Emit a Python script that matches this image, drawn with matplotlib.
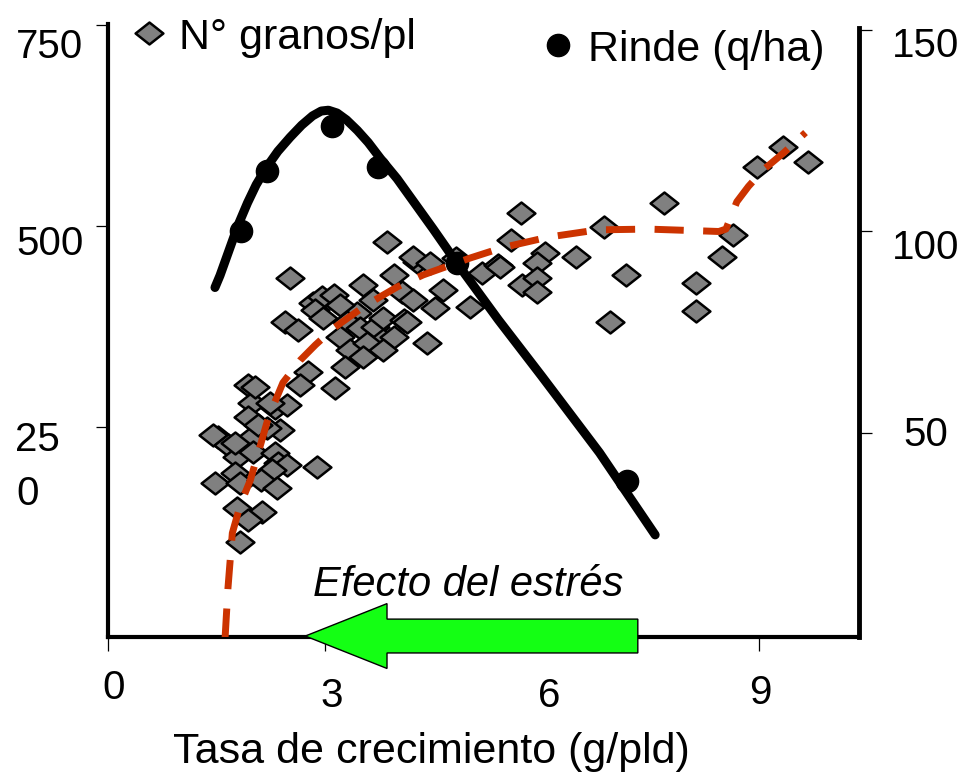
import matplotlib
matplotlib.use("Agg")
import matplotlib.pyplot as plt
import matplotlib.patches as mpatches
from matplotlib.lines import Line2D
from matplotlib.path import Path

plt.rcParams['font.family'] = ['Liberation Sans', 'DejaVu Sans']

# N granos por planta (eje izquierdo)
granos_x = [1.94, 1.99, 1.94, 2.31, 2.48, 2.38, 2.20, 1.52, 1.45, 1.66, 1.99, 1.79, 2.01, 2.31,
            1.76, 2.35, 2.48, 2.27, 2.89, 1.48, 1.76, 1.83, 2.11, 2.34, 1.79, 2.13, 1.94, 1.83,
            2.04, 2.24, 2.08, 2.52, 2.83, 2.96, 2.87, 2.45, 2.63, 3.53, 3.67, 3.45, 3.31, 3.21,
            3.35, 3.49, 3.70, 3.81, 3.80, 3.59, 3.53, 3.28, 3.14, 2.77, 2.66, 3.95, 4.09, 4.07,
            4.22, 4.28, 3.95, 3.81, 3.12, 3.86, 3.21, 2.98, 4.22, 4.46, 4.64, 5.18, 5.39, 4.14,
            4.53, 4.42, 5.01, 5.57, 6.05, 6.47, 5.94, 5.73, 5.94, 5.94, 5.43, 5.71, 4.81, 6.86,
            7.17, 6.94, 7.69, 8.13, 8.13, 8.50, 8.64, 8.98, 9.34, 9.68]
granos_y = [302, 280, 262, 274, 277, 246, 249, 238, 240, 228, 238, 213, 219, 218,
            230, 205, 203, 197, 200, 180, 193, 180, 184, 174, 149, 144, 134, 107,
            300, 280, 252, 435, 404, 412, 396, 381, 371, 427, 408, 392, 381, 362,
            346, 373, 374, 386, 358, 354, 337, 325, 299, 318, 302, 439, 383, 418,
            408, 455, 362, 346, 414, 480, 402, 386, 461, 454, 420, 442, 451, 381,
            398, 354, 399, 483, 466, 461, 454, 427, 435, 418, 449, 516, 460, 498,
            439, 381, 529, 429, 394, 461, 489, 573, 598, 580]

# ajuste de granos (linea punteada)
granos_fit_x = [1.62, 1.66, 1.72, 1.83, 1.97, 2.05, 2.22, 2.42, 2.66, 2.87, 3.14, 3.53, 3.77, 4.0,
                4.36, 4.64, 5.01, 5.46, 6.09, 6.77, 7.47, 8.13, 8.45, 8.55, 8.62, 8.70, 8.86,
                9.07, 9.35, 9.65]
granos_fit_y = [-12, 50, 118, 153, 184, 209, 262, 305, 333, 352, 374, 399, 412, 424,
                439, 448, 460, 473, 486, 495, 496, 494, 493, 496, 512, 530, 549,
                570, 591, 616]

# Rinde (q/ha), eje derecho
rinde_x = [1.84, 2.20, 3.10, 3.73, 4.83, 7.18]
rinde_y = [100, 115, 126, 116, 92, 38]

rinde_fit_x = [1.48, 1.55, 1.62, 1.70, 1.80, 1.93, 2.05, 2.2, 2.35, 2.52, 2.68, 2.83, 2.95,
               3.05, 3.17, 3.3, 3.45, 3.6, 3.77, 4.0, 4.22, 4.5, 4.83, 5.4, 6.0, 6.8, 7.57]
rinde_fit_y = [86, 89, 92.5, 96.5, 101.5, 107, 111.5, 116, 119.8, 123.3, 126.3, 128.6, 129.8,
               130.0, 129.3, 127.6, 125, 122, 118, 113, 107.5, 100.5, 92, 78, 64, 45, 24.6]

xticks = [0, 3, 6, 9]
left_ticks = [250, 500, 750]
right_ticks = [50, 100, 150]

W, H = 969, 777
def px(x, y):
    return x / W, 1 - y / H

diamond = Path([(-1, 0), (0, 0.79), (1, 0), (0, -0.79), (-1, 0)],
               [Path.MOVETO, Path.LINETO, Path.LINETO, Path.LINETO, Path.CLOSEPOLY])

fig = plt.figure(figsize=(9.69, 7.77), dpi=100)
ax = fig.add_axes([108 / W, 1 - 637 / H, 751 / W, 613 / H])
ax2 = ax.twinx()

ax.set_xlim(0, 10.39)
ax.set_ylim(-11.2, 751)
ax2.set_ylim(-0.74, 151.4)

ax.scatter(granos_x, granos_y, marker=diamond, s=400, facecolor='#808080',
           edgecolor='black', linewidth=1.8, zorder=3)

ax2.plot(rinde_fit_x, rinde_fit_y, color='black', lw=6.5, solid_capstyle='round',
         solid_joinstyle='round', zorder=3)
ax2.plot(rinde_x, rinde_y, 'o', color='black', ms=16, zorder=4)
ax2.plot(granos_fit_x, granos_fit_y, color='#CC3300', lw=5, dashes=(4.2, 2.8),
         transform=ax.transData, zorder=5)

# flecha
arrow = mpatches.FancyArrow(7.33, -0.5, -4.6, 0, width=8.4, head_width=16.1, head_length=1.13,
                            length_includes_head=True, facecolor='#14FF14', edgecolor='black',
                            linewidth=1, clip_on=False, zorder=6)
ax2.add_patch(arrow)
ax.text(4.99, 53, 'Efecto del estrés', fontsize=30, style='italic', ha='center', va='center')

for a in (ax, ax2):
    a.spines['top'].set_visible(False)
ax.spines['right'].set_visible(False)
ax2.spines['left'].set_visible(False)
ax2.spines['bottom'].set_visible(False)
ax.spines['left'].set_linewidth(3)
ax.spines['bottom'].set_linewidth(3)
ax2.spines['right'].set_linewidth(3.5)
ax2.spines['right'].set_bounds(-0.74, 150.5)

ax.set_xticks(xticks)
ax.set_yticks(left_ticks)
ax2.set_yticks(right_ticks)
ax.tick_params(axis='x', length=10, width=0.9, labelbottom=False)
ax.tick_params(axis='y', length=8.5, width=0.9, labelleft=False)
ax2.tick_params(axis='y', length=9, width=0.9, labelright=False)

fs = 29
fig.text(*px(16, 47), '750', fontsize=fs, ha='left', va='center')
fig.text(*px(16, 244), '500', fontsize=fs, ha='left', va='center')
fig.text(*px(15, 440), '25', fontsize=fs, ha='left', va='center')
fig.text(*px(16, 494), '0', fontsize=fs, ha='left', va='center')
fig.text(*px(926, 46), '150', fontsize=fs, ha='center', va='center')
fig.text(*px(926, 248), '100', fontsize=fs, ha='center', va='center')
fig.text(*px(926, 435), '50', fontsize=fs, ha='center', va='center')
for lab, (x, y) in zip(xticks, [(114, 688), (332, 696), (549, 696), (760, 693)]):
    fig.text(*px(x, y), str(lab), fontsize=fs, ha='center', va='center')

fig.text(*px(173, 752), 'Tasa de crecimiento (g/pld)', fontsize=31, ha='left', va='center')

h1 = Line2D([], [], ls='', marker=diamond, ms=20, mfc='#808080', mec='black', mew=1.8)
h2 = Line2D([], [], ls='', marker='o', ms=16, color='black')
leg1 = ax2.legend([h1], ['N° granos/pl'], loc='upper left', bbox_to_anchor=px(112, -4),
                  bbox_transform=fig.transFigure, frameon=False, fontsize=31,
                  borderpad=0, handletextpad=0.35, handlelength=0.7)
ax2.add_artist(leg1)
ax2.legend([h2], ['Rinde (q/ha)'], loc='upper right', bbox_to_anchor=px(846, 8),
           bbox_transform=fig.transFigure, frameon=False, fontsize=31,
           borderpad=0, handletextpad=0.35, handlelength=0.7)

fig.savefig('out.png', dpi=100)
